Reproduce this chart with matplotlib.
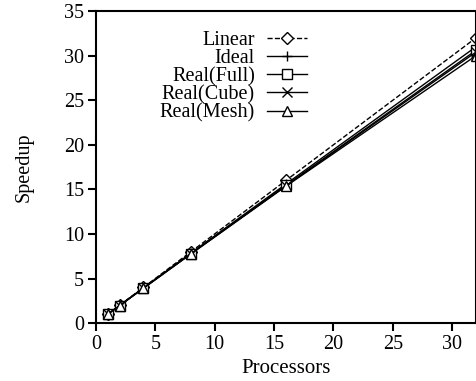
import matplotlib
matplotlib.use('Agg')
import matplotlib.pyplot as plt

plt.rcParams['font.family'] = ['Liberation Serif', 'DejaVu Serif']

procs = [1, 2, 4, 8, 16, 32]
linear = [1, 2, 4, 8, 16, 32]
ideal = [1, 1.98, 3.95, 7.85, 15.6, 31.0]
real_full = [1, 1.97, 3.92, 7.8, 15.45, 30.6]
real_cube = [1, 1.97, 3.92, 7.78, 15.4, 30.4]
real_mesh = [1, 1.96, 3.9, 7.75, 15.35, 30.0]

fig = plt.figure(figsize=(4.77, 3.81), dpi=100)
ax = fig.add_axes([0.201, 0.152, 0.797, 0.819])

mk = dict(color='black', lw=1.0, markersize=7, markerfacecolor='white', markeredgewidth=1.0)
ax.plot(procs, linear, linestyle='--', marker='D', label='Linear', **{**mk, 'markersize': 6})
ax.plot(procs, ideal, linestyle='-', marker='+', label='Ideal', **mk)
ax.plot(procs, real_full, linestyle='-', marker='s', label='Real(Full)', **mk)
ax.plot(procs, real_cube, linestyle='-', marker='x', label='Real(Cube)', **mk)
ax.plot(procs, real_mesh, linestyle='-', marker='^', label='Real(Mesh)', **mk)

ax.set_xlim(0, 32)
ax.set_ylim(0, 35)
ax.set_xticks(range(0, 31, 5))
ax.set_yticks(range(0, 36, 5))
for s in ax.spines.values():
    s.set_linewidth(1.5)
ax.tick_params(direction='out', length=5.5, width=1.5, labelsize=14.5, top=False, right=False, pad=3)
ax.set_xlabel('Processors', fontsize=15, labelpad=4)
ax.set_ylabel('Speedup', fontsize=14.5, labelpad=22)

ax.legend(loc='upper left', bbox_to_anchor=(0.12, 0.995), frameon=False, markerfirst=False,
          fontsize=14.5, handlelength=2.0, labelspacing=-0.05, handletextpad=0.6)

fig.savefig('out.png', dpi=100)
